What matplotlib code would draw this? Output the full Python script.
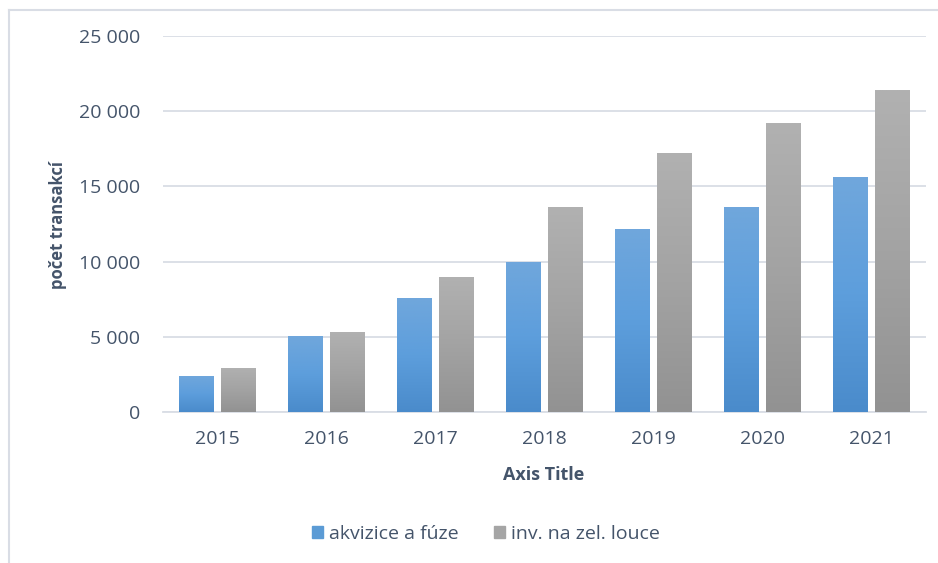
import numpy as np
import matplotlib.pyplot as plt
from matplotlib.colors import LinearSegmentedColormap
from matplotlib.patches import Rectangle
from matplotlib.ticker import FuncFormatter
from matplotlib.lines import Line2D

years = ['2015', '2016', '2017', '2018', '2019', '2020', '2021']
akvizice = [2400, 5050, 7550, 10000, 12200, 13650, 15600]
greenfield = [2950, 5350, 9000, 13600, 17250, 19200, 21400]
series_names = ['akvizice a fúze', 'inv. na zel. louce']

text_color = '#44546a'
plt.rcParams['font.family'] = ['Open Sans', 'DejaVu Sans']

blue_cmap = LinearSegmentedColormap.from_list('b', ['#4a8bcb', '#5d9edc', '#70a7dc'])
grey_cmap = LinearSegmentedColormap.from_list('g', ['#929292', '#a3a3a3', '#b1b1b1'])

fig = plt.figure(figsize=(9.38, 5.63), dpi=100)
ax = fig.add_axes([162.5 / 938, 1 - 412 / 563, 763 / 938, 376 / 563])

x = np.arange(len(years))
width = 0.32
offset = 0.193


def gradient_bars(ax, xs, vals, cmap):
    bars = ax.bar(xs, vals, width, color='none', edgecolor='none', zorder=3)
    grad = np.linspace(0, 1, 256).reshape(-1, 1)
    for b in bars:
        x0, y0 = b.get_x(), b.get_y()
        w, h = b.get_width(), b.get_height()
        im = ax.imshow(grad, cmap=cmap, origin='lower', aspect='auto',
                       extent=[x0, x0 + w, y0, y0 + h], zorder=3)
        im.set_clip_path(b)
    return bars


gradient_bars(ax, x - offset, akvizice, blue_cmap)
gradient_bars(ax, x + offset, greenfield, grey_cmap)

ax.set_xlim(-0.5, len(years) - 0.5)
ax.set_ylim(0, 25000)
ax.set_yticks(np.arange(0, 25001, 5000))
ax.yaxis.set_major_formatter(FuncFormatter(lambda v, p: f'{int(v):,}'.replace(',', ' ')))
ax.set_xticks(x)
ax.set_xticklabels(years)
ax.grid(axis='y', color='#d9dde5', linewidth=1.3, zorder=0)
ax.set_axisbelow(True)
for s in ['top', 'right', 'left']:
    ax.spines[s].set_visible(False)
ax.spines['bottom'].set_color('#d9dde5')
ax.spines['bottom'].set_linewidth(1.3)
ax.tick_params(axis='both', length=0, labelsize=14, colors=text_color)
ax.tick_params(axis='y', pad=16)
ax.tick_params(axis='x', pad=13)

ax.set_xlabel('Axis Title', fontsize=13, fontweight='bold', color=text_color, labelpad=13)
fig.text(58 / 938, 1 - 225 / 563, 'počet transakcí', rotation=90, fontsize=12,
         fontweight='bold', color=text_color, ha='center', va='center')

# chart area border (only left and top are visible)
fig.add_artist(Line2D([9 / 938, 9 / 938], [0, 1 - 10 / 563], transform=fig.transFigure,
                      color='#d9dde5', linewidth=1.5))
fig.add_artist(Line2D([9 / 938, 1], [1 - 10 / 563, 1 - 10 / 563], transform=fig.transFigure,
                      color='#d9dde5', linewidth=1.5))

handles = [Rectangle((0, 0), 1, 1, color='#5b9bd5'), Rectangle((0, 0), 1, 1, color='#a5a5a5')]
fig.legend(handles, series_names, loc='center', bbox_to_anchor=(0.518, 1 - 534 / 563),
           ncol=2, frameon=False, fontsize=14, labelcolor=text_color,
           handlelength=0.6, handleheight=0.6, handletextpad=0.3, columnspacing=1.8)

fig.savefig('out.png', dpi=100)
